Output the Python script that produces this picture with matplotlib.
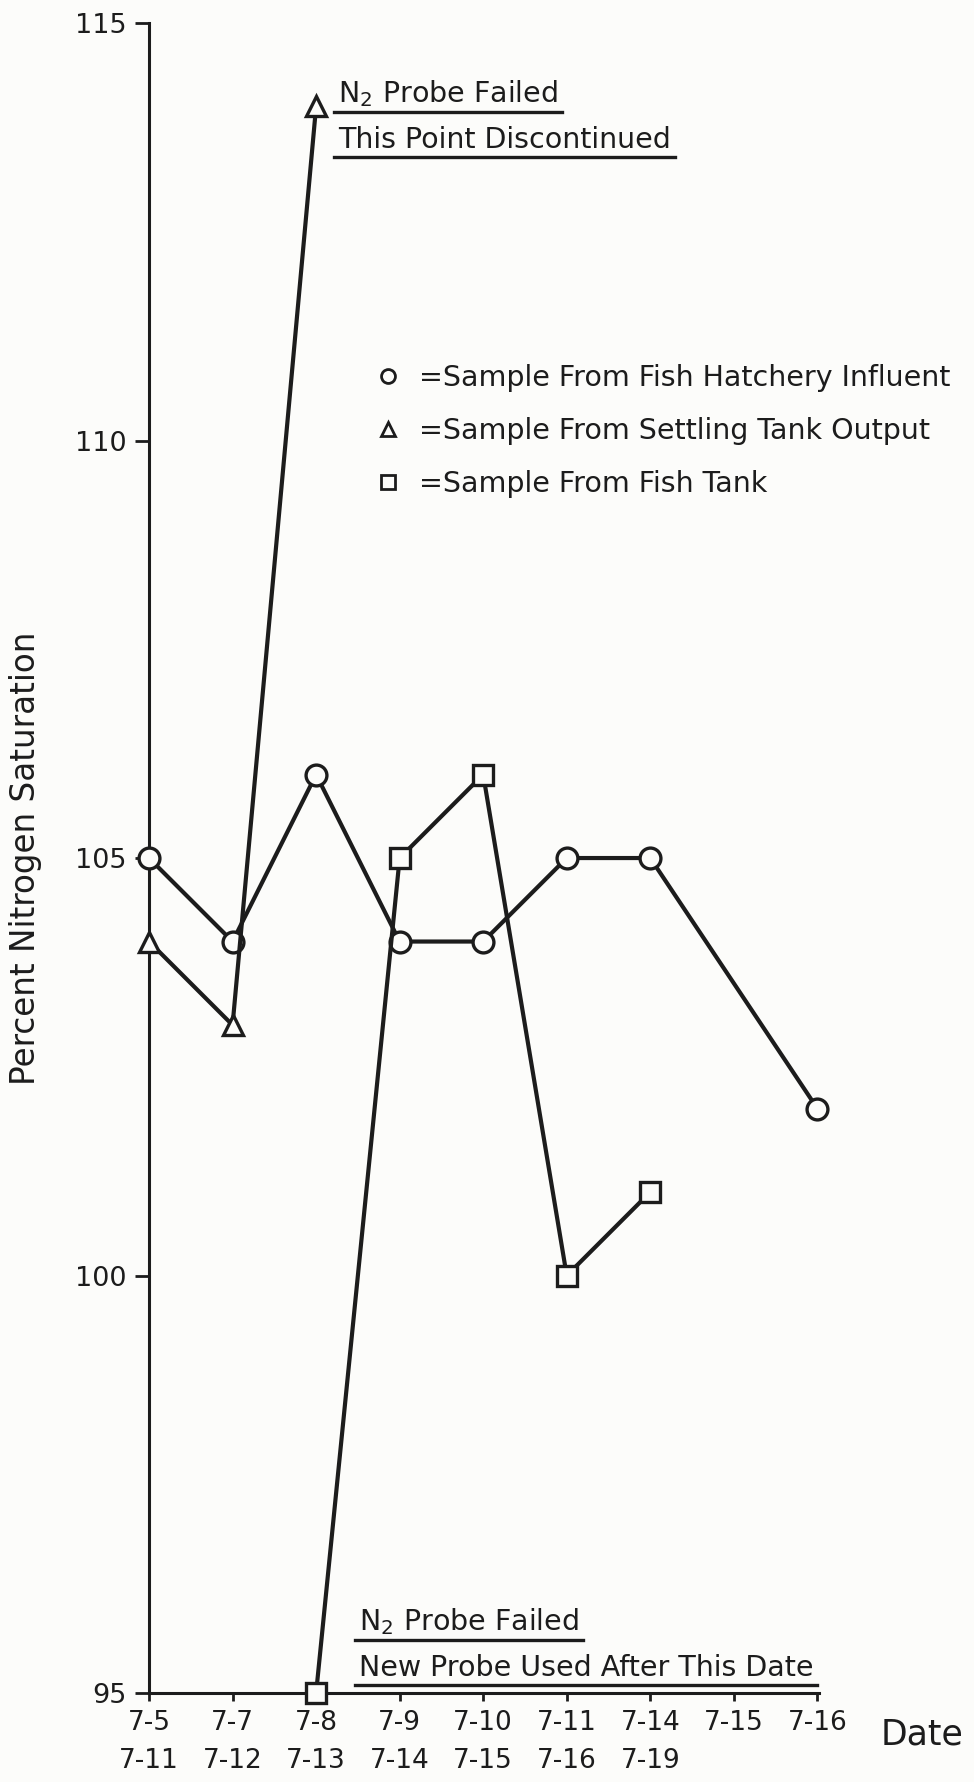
import numpy as np
import matplotlib
matplotlib.use('Agg')
import matplotlib.pyplot as plt
from matplotlib.lines import Line2D

# date axis: two rows of dates under each tick
dates_row1 = ['7-5', '7-7', '7-8', '7-9', '7-10', '7-11', '7-14', '7-15', '7-16']
dates_row2 = ['7-11', '7-12', '7-13', '7-14', '7-15', '7-16', '7-19', '', '']

# percent nitrogen saturation readings
influent_dates = ['7-5', '7-7', '7-8', '7-9', '7-10', '7-11', '7-14', '7-16']
influent_vals = [105, 104, 106, 104, 104, 105, 105, 102]

settling_dates = ['7-5', '7-7', '7-8']
settling_vals = [104, 103, 114]

tank_dates = ['7-8', '7-9', '7-10', '7-11', '7-14']
tank_vals = [95, 105, 106, 100, 101]

yticks = [95, 100, 105, 110, 115]

INK = '#1c1c1c'
BG = '#fcfcfa'

def to_x(dates):
    return [dates_row1.index(d) for d in dates]

fig = plt.figure(figsize=(9.74, 17.82), dpi=100, facecolor=BG)
ax = fig.add_axes([0.153, 0.0499, 0.6879, 0.9372], facecolor=BG)

mk = dict(color=INK, lw=3, markersize=15, markeredgewidth=2.4,
          markerfacecolor=BG, markeredgecolor=INK, clip_on=False)
ax.plot(to_x(influent_dates), influent_vals, marker='o', zorder=3, **mk)
ax.plot(to_x(settling_dates), settling_vals, marker='^', zorder=3, **mk)
ax.plot(to_x(tank_dates), tank_vals, marker='s', zorder=3, **mk)

ax.set_xlim(0, 8.02)
ax.set_ylim(95, 115)
ax.set_xticks(range(len(dates_row1)))
ax.set_xticklabels([f'{a}\n{b}' for a, b in zip(dates_row1, dates_row2)],
                   linespacing=1.6, ha='center')
ax.set_yticks(yticks)
ax.set_yticklabels([str(v) for v in yticks])

for s in ['top', 'right']:
    ax.spines[s].set_visible(False)
for s in ['left', 'bottom']:
    ax.spines[s].set_linewidth(2.2)
    ax.spines[s].set_color(INK)

ax.tick_params(axis='x', direction='out', length=6, width=2, pad=6,
               labelsize=19, colors=INK)
ax.tick_params(axis='y', direction='out', length=10, width=2, pad=6,
               labelsize=19.5, colors=INK)

ax.set_ylabel('Percent Nitrogen Saturation', fontsize=23.5, color=INK,
              va='center')
ax.yaxis.set_label_coords(-0.185, 0.5)
ax.set_xlabel('Date', fontsize=25, color=INK, va='center', ha='center')
ax.xaxis.set_label_coords(1.154, -0.025)

# legend
handles = [
    Line2D([], [], ls='none', marker='o', markersize=10, markeredgewidth=2,
           markerfacecolor=BG, markeredgecolor=INK),
    Line2D([], [], ls='none', marker='^', markersize=10, markeredgewidth=2,
           markerfacecolor=BG, markeredgecolor=INK),
    Line2D([], [], ls='none', marker='s', markersize=10, markeredgewidth=2,
           markerfacecolor=BG, markeredgecolor=INK),
]
labels = ['=Sample From Fish Hatchery Influent',
          '=Sample From Settling Tank Output',
          '=Sample From Fish Tank']
leg = ax.legend(handles, labels, loc='upper left', bbox_to_anchor=(0.336, 0.796),
                frameon=False, borderpad=0, borderaxespad=0, handlelength=1.0,
                handletextpad=0.56, labelspacing=0.88, fontsize=20.5)
for t in leg.get_texts():
    t.set_color(INK)

# notes on the probe failures
notes = [
    ax.text(2.26, 114.05, 'N$_2$ Probe Failed', fontsize=20.5, color=INK,
            va='baseline', ha='left'),
    ax.text(2.26, 113.50, 'This Point Discontinued', fontsize=20.5, color=INK,
            va='baseline', ha='left'),
    ax.text(2.51, 95.75, 'N$_2$ Probe Failed', fontsize=20.5, color=INK,
            va='baseline', ha='left'),
    ax.text(2.51, 95.21, 'New Probe Used After This Date', fontsize=20.5,
            color=INK, va='baseline', ha='left'),
]

# underline each note
fig.canvas.draw()
r = fig.canvas.get_renderer()
inv = ax.transData.inverted()
for t in notes:
    bb = t.get_window_extent(r)
    x0, y0 = inv.transform((bb.x0 - 4, bb.y0 - 3))
    x1, _ = inv.transform((bb.x1 + 4, bb.y0 - 3))
    ax.plot([x0, x1], [y0, y0], color=INK, lw=2.4, clip_on=False)

fig.savefig('out.png', dpi=100, facecolor=BG)
